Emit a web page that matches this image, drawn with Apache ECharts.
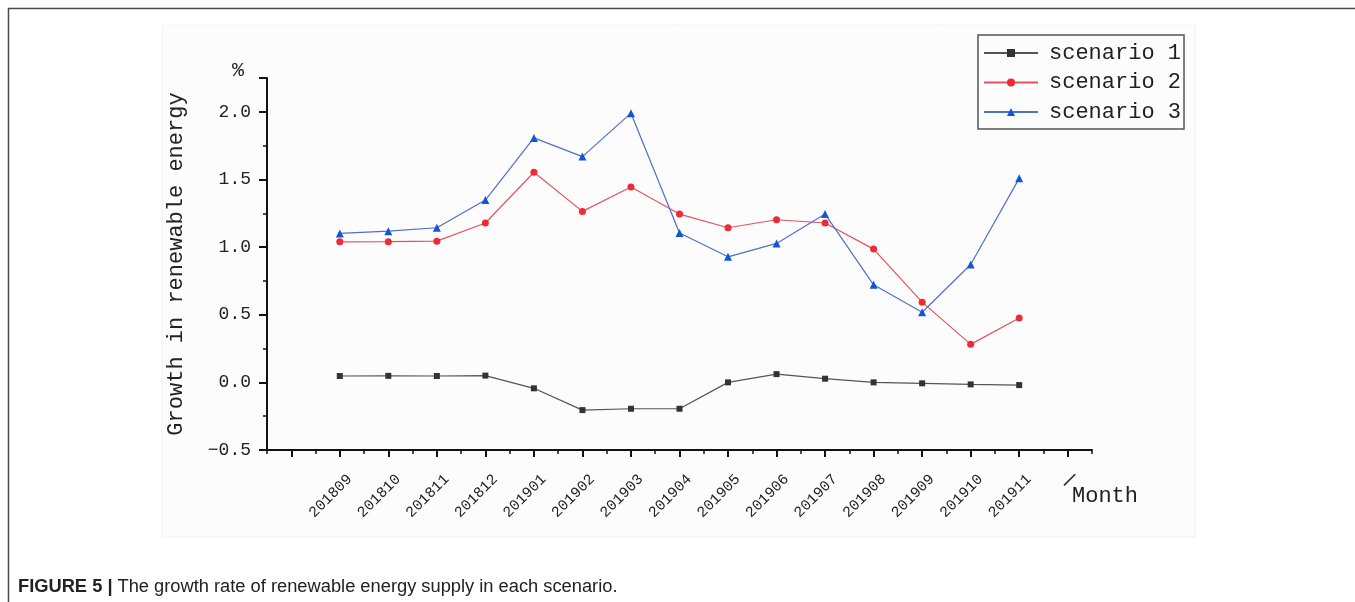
<!DOCTYPE html>
<html>
<head>
<meta charset="utf-8">
<script src="https://cdn.jsdelivr.net/npm/echarts@6/dist/echarts.min.js"></script>
<style>
html,body{margin:0;padding:0;background:#fff;}
#main{width:1355px;height:602px;}
</style>
</head>
<body>
<div id="main"></div>
<script>
// ---- data ----
const months = ['201809','201810','201811','201812','201901','201902','201903','201904','201905','201906','201907','201908','201909','201910','201911'];
const scenario1 = [0.047, 0.048, 0.047, 0.050, -0.044, -0.205, -0.195, -0.195, 0.000, 0.061, 0.027, 0.000, -0.007, -0.015, -0.020];
const scenario2 = [1.039, 1.040, 1.044, 1.178, 1.553, 1.264, 1.444, 1.244, 1.143, 1.202, 1.178, 0.985, 0.593, 0.281, 0.476];
const scenario3 = [1.101, 1.118, 1.143, 1.348, 1.807, 1.669, 1.990, 1.104, 0.928, 1.027, 1.244, 0.721, 0.518, 0.871, 1.508];
const yTicks = [-0.5, 0.0, 0.5, 1.0, 1.5, 2.0];
const seriesNames = ['scenario 1', 'scenario 2', 'scenario 3'];

// axis categories: one empty slot before, and the unit-mark slot after
const UNIT_MARK = '\u2014';
const categories = [''].concat(months, [UNIT_MARK]);

const MONO = '"Liberation Mono", "DejaVu Sans Mono", monospace';
const SANS = '"Liberation Sans", Arial, sans-serif';
const chart = echarts.init(document.getElementById('main'), null, {renderer: 'canvas'});

function pairs(vals){ return months.map((m, i) => [m, vals[i]]); }

const option = {
  backgroundColor: '#ffffff',
  animation: false,
  title: {
    left: 13, top: 573,
    text: '{b|FIGURE 5 |} {n|The growth rate of renewable energy supply in each scenario.}',
    textStyle: {
      rich: {
        b: {fontFamily: SANS, fontWeight: 'bold', fontSize: 18.3, color: '#222'},
        n: {fontFamily: SANS, fontWeight: 'normal', fontSize: 18.3, color: '#222'}
      }
    }
  },
  graphic: [
    {type: 'rect', silent: true, z: -10, shape: {x: 8.5, y: 8.5, width: 1400, height: 700},
     style: {fill: '#ffffff', stroke: '#4a4a4a', lineWidth: 1.5}},
    {type: 'rect', silent: true, z: -9, shape: {x: 162, y: 25, width: 1033, height: 512},
     style: {fill: '#fcfcfc', stroke: '#f2f2f2', lineWidth: 1}},
    {type: 'text', left: 232, top: 61, style: {text: '%', font: '20px ' + MONO, fill: '#222'}},
    {type: 'text', left: 1072, top: 485, style: {text: 'Month', font: '22px ' + MONO, fill: '#222'}}
  ],
  legend: {
    orient: 'vertical',
    left: 978, top: 35,
    padding: [7, 3, 6, 5],
    itemGap: 7.5,
    itemWidth: 54,
    itemHeight: 10,
    borderColor: '#555',
    borderWidth: 1.5,
    borderRadius: 0,
    textStyle: {fontFamily: MONO, fontSize: 22, color: '#222', lineHeight: 22, padding: [0, 0, 0, 6]},
    data: seriesNames
  },
  grid: {left: 267, right: 263, top: 78, bottom: 152, containLabel: false},
  xAxis: [
    {
      type: 'category',
      data: categories,
      boundaryGap: true,
      axisLine: {show: true, onZero: false, lineStyle: {color: '#111', width: 2}},
      axisTick: {show: true, alignWithLabel: true, interval: 0, length: 7, lineStyle: {color: '#111', width: 2}},
      axisLabel: {
        interval: 0, rotate: 45, margin: 17, verticalAlign: 'top', lineHeight: 28,
        fontFamily: MONO, fontSize: 15, color: '#222',
        formatter: v => (v === UNIT_MARK ? '{d|' + v + '}' : v),
        rich: {d: {fontFamily: MONO, fontSize: 26, lineHeight: 28, padding: [0, 0, 8, 0], color: '#333'}}
      },
      splitLine: {show: false}
    },
    {
      type: 'category',
      data: categories,
      boundaryGap: true,
      position: 'bottom',
      axisLine: {show: false, onZero: false},
      axisTick: {show: true, alignWithLabel: false, interval: 0, length: 4, lineStyle: {color: '#111', width: 1.5}},
      axisLabel: {show: false},
      splitLine: {show: false}
    }
  ],
  yAxis: {
    type: 'value',
    min: -0.5, max: 2.25, interval: 0.5,
    name: 'Growth in renewable energy',
    nameLocation: 'middle',
    nameGap: 80,
    nameRotate: 90,
    nameTextStyle: {fontFamily: MONO, fontSize: 22, color: '#222'},
    axisLine: {show: true, lineStyle: {color: '#111', width: 2}},
    axisTick: {show: true, length: 8, lineStyle: {color: '#111', width: 2}},
    minorTick: {show: true, splitNumber: 2, length: 4, lineStyle: {color: '#111', width: 1.5}},
    axisLabel: {
      margin: 16, fontFamily: MONO, fontSize: 18, color: '#222', showMaxLabel: false,
      formatter: v => (yTicks.indexOf(v) >= 0 ? v.toFixed(1).replace('-', '\u2212') : '')
    },
    splitLine: {show: false}
  },
  series: [
    {
      name: seriesNames[0], type: 'line', data: pairs(scenario1),
      symbol: 'rect', symbolSize: 6,
      lineStyle: {color: '#555', width: 1.2},
      itemStyle: {color: '#333'}
    },
    {
      name: seriesNames[1], type: 'line', data: pairs(scenario2),
      symbol: 'circle', symbolSize: 7,
      lineStyle: {color: '#e5545e', width: 1.2},
      itemStyle: {color: '#ee2a35'}
    },
    {
      name: seriesNames[2], type: 'line', data: pairs(scenario3),
      symbol: 'triangle', symbolSize: 8,
      lineStyle: {color: '#4d72c4', width: 1.2},
      itemStyle: {color: '#1455d6'}
    }
  ]
};
chart.setOption(option);
</script>
</body>
</html>
